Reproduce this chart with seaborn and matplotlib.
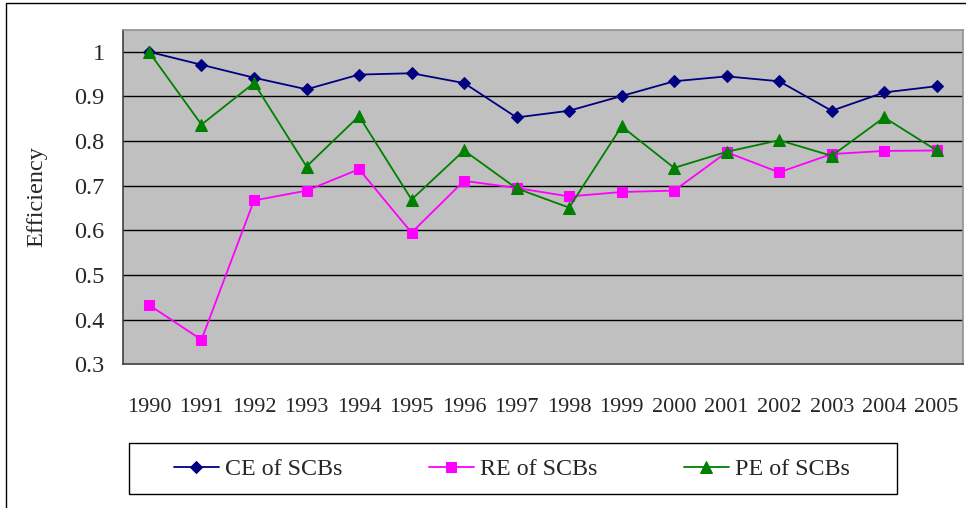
import matplotlib
matplotlib.use("Agg")
import matplotlib.pyplot as plt
import seaborn as sns
import numpy as np
import pandas as pd
from matplotlib.patches import Rectangle

years = [1990, 1991, 1992, 1993, 1994, 1995, 1996, 1997,
         1998, 1999, 2000, 2001, 2002, 2003, 2004, 2005]
ce = [1.000, 0.971, 0.942, 0.916, 0.949, 0.952, 0.930, 0.853,
      0.868, 0.901, 0.934, 0.945, 0.934, 0.868, 0.909, 0.923]
re = [0.433, 0.355, 0.667, 0.689, 0.737, 0.595, 0.711, 0.695,
      0.676, 0.686, 0.689, 0.775, 0.730, 0.771, 0.778, 0.779]
pe = [1.000, 0.837, 0.930, 0.743, 0.856, 0.669, 0.779, 0.694,
      0.651, 0.833, 0.740, 0.776, 0.802, 0.767, 0.853, 0.779]
series_names = ["CE of SCBs", "RE of SCBs", "PE of SCBs"]
y_ticks = [0.3, 0.4, 0.5, 0.6, 0.7, 0.8, 0.9, 1.0]
y_tick_labels = ["0.3", "0.4", "0.5", "0.6", "0.7", "0.8", "0.9", "1"]

sns.set_style("white")
plt.rcParams["font.family"] = ["Liberation Serif", "DejaVu Serif"]

W, H = 966, 508
fig = plt.figure(figsize=(W / 100, H / 100), dpi=100)
fig.patch.set_facecolor("white")

# outer chart frame
fig.add_artist(Rectangle((6 / W, -0.1), 2.0, 1.1 - 3 / H, transform=fig.transFigure,
                         fill=False, edgecolor="black", linewidth=1.0))

left, right, top, bottom = 122.7, 963, 29.5, 364.3
ax = fig.add_axes([left / W, 1 - bottom / H, (right - left) / W, (bottom - top) / H])
ax.set_facecolor("#C0C0C0")

idx = np.arange(len(years))
df = pd.DataFrame({"x": idx, "ce": ce, "re": re, "pe": pe})

styles = [
    ("ce", "#000080", "D", 6.5),
    ("re", "#FF00FF", "s", 7),
    ("pe", "#008000", "^", 8),
]
for (col, color, mk, ms), name in zip(styles, series_names):
    sns.lineplot(data=df, x="x", y=col, ax=ax, color=color, marker=mk,
                 markersize=ms, markeredgecolor=color, linewidth=1.3,
                 label=name, zorder=3)

ax.set_xlim(-0.5, len(years) - 0.5)
ax.set_ylim(0.3, 1.05)
ax.set_yticks(y_ticks)
ax.set_yticklabels(y_tick_labels, fontsize=17.5)
for yv in y_ticks[1:]:
    ax.axhline(yv, color="black", linewidth=1.0, zorder=1)

ax.set_xticks(idx)
ax.set_xticklabels([str(y) for y in years], fontsize=16)
ax.set_xticks(np.arange(-0.5, len(years), 1.0), minor=True)
ax.tick_params(axis="x", which="major", length=0, pad=24)
ax.tick_params(axis="x", which="minor", length=6, width=1, color="#404040", direction="out")
ax.tick_params(axis="y", which="major", length=6, width=1, color="#404040", direction="out", pad=7)
ax.set_xlabel("")
ax.set_ylabel("Efficiency", fontsize=17.5)
ax.yaxis.set_label_coords((47 - left) / (right - left), 0.5)

for s in ["left", "bottom"]:
    ax.spines[s].set_color("#404040")
    ax.spines[s].set_linewidth(1.2)
for s in ["top", "right"]:
    ax.spines[s].set_color("#909090")
    ax.spines[s].set_linewidth(1.2)

leg = ax.legend(loc="center left", bbox_to_anchor=(174 / W, 1 - 469 / H),
                bbox_transform=fig.transFigure, ncol=3, fontsize=17.3, frameon=False,
                handlelength=1.87, handletextpad=0.25, columnspacing=3.6,
                borderpad=0, borderaxespad=0)
fig.add_artist(Rectangle((129 / W, 1 - 494 / H), (897 - 129) / W, (494 - 443) / H,
                         transform=fig.transFigure, fill=False, edgecolor="black",
                         linewidth=1.0))

fig.savefig("out.png", dpi=100)
